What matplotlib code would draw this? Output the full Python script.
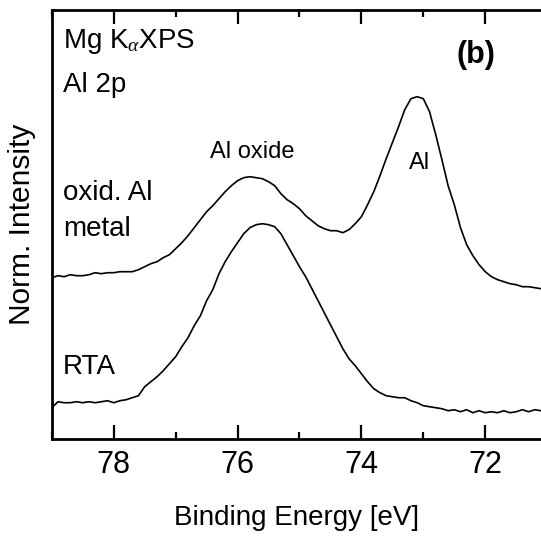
import matplotlib
matplotlib.use("Agg")
import matplotlib.pyplot as plt
from matplotlib.ticker import MultipleLocator, NullLocator

plt.rcParams['font.family'] = ['Liberation Sans', 'DejaVu Sans']
plt.rcParams['mathtext.fontset'] = 'custom'
plt.rcParams['mathtext.rm'] = 'Liberation Serif'
plt.rcParams['mathtext.it'] = 'Liberation Serif:italic'

# Binding energy grid [eV]
energy = [79.0, 78.9, 78.8, 78.7, 78.6, 78.5, 78.4, 78.3, 78.2, 78.1,
          78.0, 77.9, 77.8, 77.7, 77.6, 77.5, 77.4, 77.3, 77.2, 77.1,
          77.0, 76.9, 76.8, 76.7, 76.6, 76.5, 76.4, 76.3, 76.2, 76.1,
          76.0, 75.9, 75.8, 75.7, 75.6, 75.5, 75.4, 75.3, 75.2, 75.1,
          75.0, 74.9, 74.8, 74.7, 74.6, 74.5, 74.4, 74.3, 74.2, 74.1,
          74.0, 73.9, 73.8, 73.7, 73.6, 73.5, 73.4, 73.3, 73.2, 73.1,
          73.0, 72.9, 72.8, 72.7, 72.6, 72.5, 72.4, 72.3, 72.2, 72.1,
          72.0, 71.9, 71.8, 71.7, 71.6, 71.5, 71.4, 71.3, 71.2, 71.1]

# oxidised Al metal (offset spectrum)
oxid_al = [1.61, 1.63, 1.62, 1.64, 1.63, 1.63, 1.64, 1.66, 1.65, 1.66,
           1.66, 1.67, 1.67, 1.67, 1.69, 1.72, 1.75, 1.77, 1.81, 1.84,
           1.90, 1.96, 2.03, 2.11, 2.19, 2.27, 2.33, 2.40, 2.47, 2.53,
           2.58, 2.61, 2.62, 2.61, 2.60, 2.57, 2.53, 2.45, 2.39, 2.35,
           2.30, 2.23, 2.18, 2.13, 2.10, 2.08, 2.08, 2.06, 2.09, 2.15,
           2.22, 2.34, 2.47, 2.63, 2.80, 2.96, 3.12, 3.29, 3.40, 3.42,
           3.40, 3.27, 3.04, 2.79, 2.53, 2.34, 2.11, 1.94, 1.83, 1.74,
           1.67, 1.62, 1.59, 1.57, 1.55, 1.54, 1.52, 1.52, 1.51, 1.50]

# RTA spectrum
rta = [0.31, 0.37, 0.36, 0.36, 0.37, 0.36, 0.37, 0.36, 0.37, 0.38,
       0.36, 0.38, 0.39, 0.41, 0.43, 0.52, 0.57, 0.62, 0.68, 0.75,
       0.82, 0.92, 1.01, 1.13, 1.23, 1.38, 1.49, 1.65, 1.77, 1.87,
       1.96, 2.05, 2.11, 2.14, 2.15, 2.14, 2.12, 2.05, 1.94, 1.83,
       1.72, 1.62, 1.50, 1.38, 1.26, 1.14, 1.02, 0.90, 0.80, 0.73,
       0.65, 0.57, 0.50, 0.46, 0.43, 0.42, 0.41, 0.41, 0.38, 0.36,
       0.33, 0.32, 0.31, 0.30, 0.28, 0.29, 0.27, 0.29, 0.26, 0.28,
       0.26, 0.27, 0.26, 0.28, 0.26, 0.27, 0.29, 0.27, 0.29, 0.28]

x_ticks = [78, 76, 74, 72]

fig = plt.figure(figsize=(5.41, 5.37), dpi=100)
ax = fig.add_axes([0.0957, 0.183, 0.9043, 0.799])

ax.plot(energy, oxid_al, color='black', lw=1.2)
ax.plot(energy, rta, color='black', lw=1.2)

ax.set_xlim(79.0, 71.1)
ax.set_ylim(0, 4.29)
ax.xaxis.set_minor_locator(MultipleLocator(1))
ax.set_xticks(x_ticks)
ax.yaxis.set_major_locator(NullLocator())
ax.tick_params(axis='x', which='major', direction='in', length=10, width=1.6,
               top=True, labelsize=22, pad=8)
ax.tick_params(axis='x', which='minor', direction='in', length=5, width=1.6,
               top=True)
for side in ['left', 'bottom', 'top']:
    ax.spines[side].set_linewidth(2.0)
ax.spines['right'].set_visible(False)

ax.set_xlabel('Binding Energy [eV]', fontsize=20, labelpad=18)
ax.set_ylabel('Norm. Intensity', fontsize=21.5, labelpad=11)

tk = dict(transform=fig.transFigure, fontsize=20, va='center', ha='left')
fig.text(63/541, 1 - 42/537, r'Mg K$_{\alpha}$XPS', **tk)
fig.text(63/541, 1 - 85/537, 'Al 2p', **tk)
fig.text(63/541, 1 - 193/537, 'oxid. Al', **tk)
fig.text(63/541, 1 - 229/537, 'metal', **tk)
fig.text(63/541, 1 - 367/537, 'RTA', **tk)
fig.text(457/541, 1 - 55/537, '(b)', transform=fig.transFigure, fontsize=22,
         fontweight='bold', va='center', ha='left')
fig.text(252/541, 1 - 152/537, 'Al oxide', transform=fig.transFigure,
         fontsize=17, va='center', ha='center')
fig.text(420/541, 1 - 163/537, 'Al', transform=fig.transFigure,
         fontsize=17, va='center', ha='center')

fig.savefig('out.png', dpi=100)
